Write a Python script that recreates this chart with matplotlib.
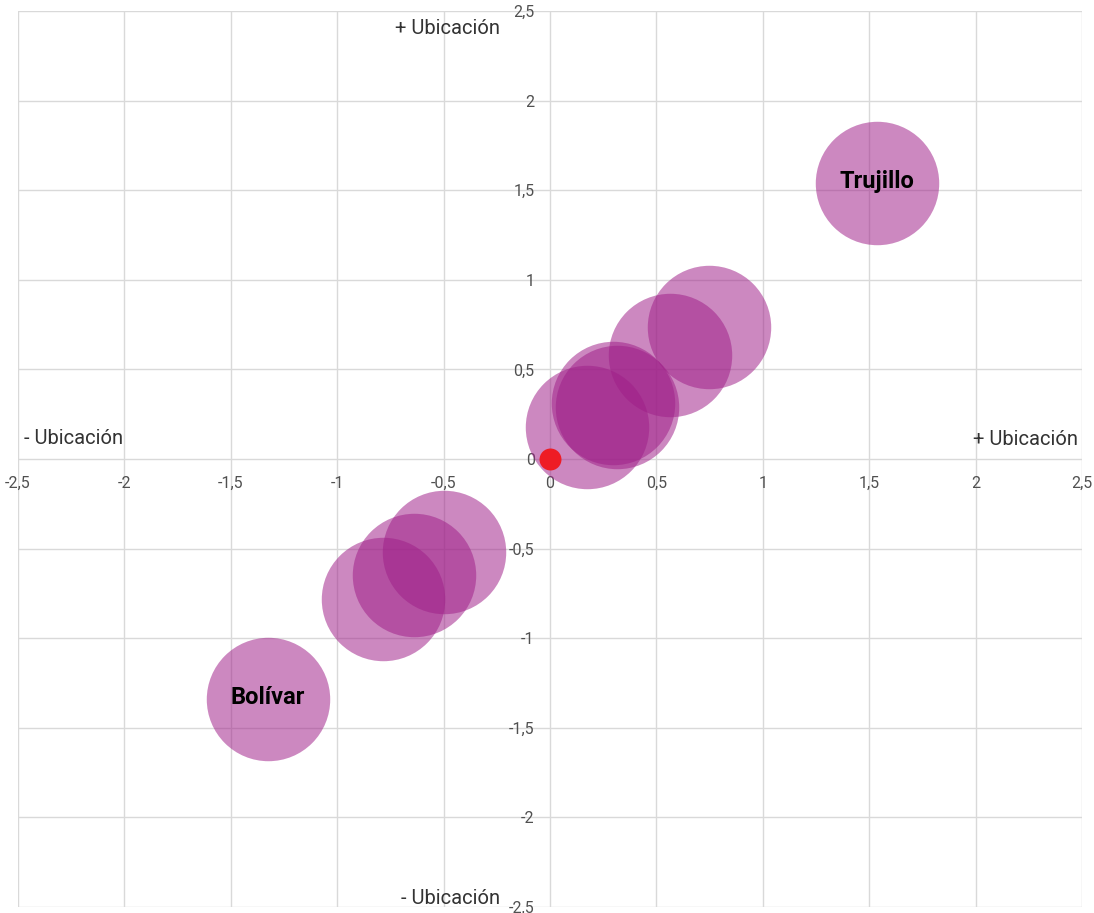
import matplotlib
matplotlib.use("Agg")
import matplotlib.pyplot as plt
from matplotlib.ticker import FuncFormatter

# ---- data ----
names = ["Trujillo", "", "", "", "", "", "", "", "", "Bolívar"]
x_vals = [1.537, 0.745, 0.562, 0.294, 0.317, 0.176, -0.500, -0.641, -0.787, -1.327]
y_vals = [1.540, 0.737, 0.580, 0.312, 0.290, 0.179, -0.519, -0.647, -0.781, -1.342]
origin_x = [0.0]
origin_y = [0.0]
ticks = [-2.5, -2, -1.5, -1, -0.5, 0, 0.5, 1, 1.5, 2, 2.5]
quadrant_labels = ["+ Ubicación", "- Ubicación", "- Ubicación", "+ Ubicación"]

plt.rcParams['font.family'] = ['Roboto', 'DejaVu Sans']

fig = plt.figure(figsize=(10.94, 9.13), dpi=100)
W, H = 1094, 913
ax = fig.add_axes([18 / W, (913 - 907) / H, (1082 - 18) / W, (907 - 11) / H])
ax.set_xlim(-2.5, 2.5)
ax.set_ylim(-2.5, 2.5)

bubble_color = (159 / 255, 31 / 255, 136 / 255)
ax.scatter(x_vals, y_vals, s=7900, color=bubble_color, alpha=0.53, linewidths=0, zorder=3)
ax.scatter(origin_x, origin_y, s=250, color='#EE1C25', linewidths=0, zorder=4)

for n, xv, yv in zip(names, x_vals, y_vals):
    if n:
        ax.text(xv, yv + 0.01, n, ha='center', va='center', fontsize=17, fontweight='bold',
                color='black', zorder=5)

ax.set_xticks(ticks)
ax.set_yticks(ticks)
fmt = FuncFormatter(lambda v, p: ('%g' % v).replace('.', ','))
ax.xaxis.set_major_formatter(fmt)
ax.yaxis.set_major_formatter(fmt)

for side in ['top', 'right']:
    ax.spines[side].set_visible(False)
ax.spines['left'].set_position(('data', 0))
ax.spines['bottom'].set_position(('data', 0))
ax.spines['left'].set_color('none')
ax.spines['bottom'].set_color('none')

ax.tick_params(axis='x', length=0, pad=12, labelsize=11.5, labelcolor='#505050')
ax.tick_params(axis='y', length=0, pad=11, labelsize=11.5, labelcolor='#505050')
ax.grid(True, color='#d9d9d9', linewidth=1)
ax.set_axisbelow(True)

qfs = 14.5
qc = '#333333'
ax.text(-0.235, 2.405, quadrant_labels[0], ha='right', va='center', fontsize=qfs, color=qc)
ax.text(-0.235, -2.45, quadrant_labels[1], ha='right', va='center', fontsize=qfs, color=qc)
ax.text(-2.474, 0.112, quadrant_labels[2], ha='left', va='center', fontsize=qfs, color=qc)
ax.text(2.483, 0.108, quadrant_labels[3], ha='right', va='center', fontsize=qfs, color=qc)

fig.savefig("out.png", dpi=100)
